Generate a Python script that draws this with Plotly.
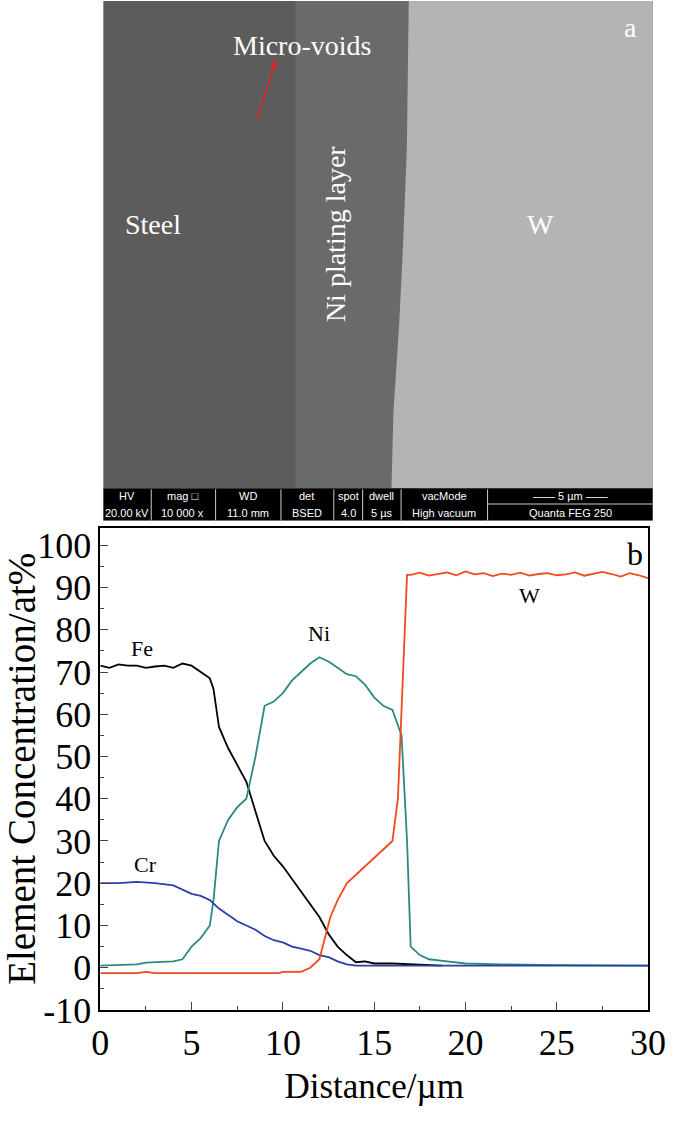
import plotly.graph_objects as go

fe_x = [0,0.5,1,1.5,2,2.5,3,3.5,4,4.5,5,5.5,6,6.2,6.5,7,7.5,8,8.5,9,9.5,10,10.5,11,11.5,12,12.5,13,13.5,14,14.5,15,16,17,18,18.7]
fe_y = [71.5,71,71.8,71.5,71.5,71,71.3,71.5,71,72,71.5,70,68.5,66,57,52,48,44,37,30,26.5,24,21,18,15,12,8,5,3,1.3,1.5,1,1,0.8,0.5,0.5]
ni_x = [0,2,2.5,4,4.5,5,5.5,6,6.2,6.5,7,7.5,8,8.5,9,9.5,10,10.5,11,11.5,12,12.5,13,13.5,14,14.5,15,15.5,16,16.5,16.8,17,17.5,18,19,20,22,25,30]
ni_y = [0.5,0.8,1.2,1.5,2,5,7,10,16,30,35,38,40,50,62,63,65,68,70,72,73.5,72.5,71,69.5,69,67,64,62,61,55,30,5,3,2,1.5,1,0.8,0.6,0.5]
cr_x = [0,1,2,3,4,5,5.5,6,6.5,7,7.5,8,8.5,9,9.5,10,10.5,11,11.5,12,12.5,13,13.5,14,16,20,30]
cr_y = [20,20,20.3,20,19.5,17.5,17,16,14,12.5,11,10,9,7.5,6.5,6,5,4.5,4,3,2.5,1.5,0.8,0.5,0.5,0.5,0.5]
w_x = [0,2,2.5,3,9.8,10,11,11.5,12,12.3,12.6,13,13.5,14,14.5,15,15.5,16,16.3,16.6,16.8,17,17.5,18,18.5,19,19.5,20,20.5,21,21.5,22,22.5,23,23.5,24,24.5,25,25.5,26,26.5,27,27.5,28,28.5,29,29.5,30]
w_y = [-1.3,-1.3,-1,-1.3,-1.3,-1,-1,0,2,7,12,16,20,22,24,26,28,30,40,70,93,93,93.5,92.8,93.2,93.6,92.9,93.8,93.1,93.4,92.7,93.3,93,93.5,92.8,93.2,93.4,92.9,93.1,93.6,92.8,93.3,93.7,93.2,92.6,93.4,92.9,92.2]
y_ticks = [-10,0,10,20,30,40,50,60,70,80,90,100]
y_ticktext = ["-10","0","10","20","30","40","50","60","70","80","90","100"]

F = "Liberation Serif"
fig = go.Figure()
for x, y, c in [(fe_x, fe_y, "#000000"), (ni_x, ni_y, "#2a8a80"), (cr_x, cr_y, "#2a3fa8"), (w_x, w_y, "#f04a1e")]:
    fig.add_trace(go.Scatter(x=x, y=y, mode="lines", line=dict(color=c, width=1.8), showlegend=False))

fig.add_trace(go.Scatter(x=[0], y=[0], xaxis="x2", yaxis="y2", mode="markers", marker=dict(opacity=0), showlegend=False))
sh = []
def rect(x0, y0, x1, y1, col):
    sh.append(dict(type="rect", xref="x2", yref="y2", x0=x0, y0=y0, x1=x1, y1=y1, fillcolor=col, line=dict(width=0), layer="below"))
rect(0, 0, 572, 497, "#5c5c5c")
rect(200, 0, 320, 497, "#6a6a6a")
sh.append(dict(type="path", xref="x2", yref="y2", layer="below", fillcolor="#b4b4b4", line=dict(width=0),
               path="M 318 0 L 572 0 L 572 497 L 300 497 L 302 420 L 308 330 L 312 250 L 316 150 Z"))
rect(0, 497, 572, 530, "#000000")
for xs in [50, 117, 185, 240, 270, 310, 400]:
    sh.append(dict(type="line", xref="x2", yref="y2", x0=xs, x1=xs, y0=498, y1=530, line=dict(color="#cccccc", width=1)))
sh.append(dict(type="line", xref="x2", yref="y2", x0=400, x1=572, y0=513, y1=513, line=dict(color="#cccccc", width=1)))
ann = []
cells = [(25, "HV", "20.00 kV"), (83, "mag \u25a1", "10 000 x"), (151, "WD", "11.0 mm"), (212, "det", "BSED"),
         (255, "spot", "4.0"), (290, "dwell", "5 \u00b5s"), (355, "vacMode", "High vacuum")]
for cx, t1, t2 in cells:
    ann.append(dict(xref="x2", yref="y2", x=cx, y=505, text=t1, showarrow=False, font=dict(family="Liberation Sans", size=11, color="white")))
    ann.append(dict(xref="x2", yref="y2", x=cx, y=522, text=t2, showarrow=False, font=dict(family="Liberation Sans", size=11, color="white")))
ann.append(dict(xref="x2", yref="y2", x=486, y=505, text="\u2014\u2014 5 \u00b5m \u2014\u2014", showarrow=False, font=dict(family="Liberation Sans", size=11, color="white")))
ann.append(dict(xref="x2", yref="y2", x=486, y=522, text="Quanta FEG 250", showarrow=False, font=dict(family="Liberation Sans", size=11, color="white")))
for x, y, t, ang in [(52, 228, "Steel", 0), (455, 228, "W", 0), (242, 238, "Ni plating layer", -90), (207, 45, "Micro-voids", 0), (549, 27, "a", 0)]:
    ann.append(dict(xref="x2", yref="y2", x=x, y=y, text=t, showarrow=False, textangle=ang, font=dict(family=F, size=28, color="white")))
ann.append(dict(xref="x2", yref="y2", x=180, y=60, ax=159, ay=123, axref="x2", ayref="y2", text="", showarrow=True,
                arrowhead=2, arrowsize=1, arrowwidth=1.5, arrowcolor="#e02020"))
for x, y, t in [(2.3, 75.5, "Fe"), (12, 79, "Ni"), (2.5, 24.5, "Cr"), (23.5, 88, "W")]:
    ann.append(dict(x=x, y=y, text=t, showarrow=False, font=dict(family=F, size=22, color="black")))
ann.append(dict(x=29.3, y=98, text="b", showarrow=False, font=dict(family=F, size=32, color="black")))

fig.update_layout(
    width=692, height=1129, margin=dict(l=0, r=0, t=0, b=0),
    paper_bgcolor="white", plot_bgcolor="white", shapes=sh, annotations=ann,
    font=dict(family=F, color="black"),
    xaxis=dict(domain=[95/692, 665/692], range=[0, 30], dtick=5, showgrid=False, zeroline=False,
               ticks="inside", ticklen=8, minor=dict(ticks="inside", ticklen=4, dtick=2.5),
               showline=True, linecolor="black", linewidth=1.5, mirror=True,
               tickfont=dict(size=36), title=dict(text="Distance/\u00b5m", font=dict(size=35), standoff=12), anchor="y"),
    yaxis=dict(domain=[100/1129, 592/1129], range=[-10, 104.2], tickvals=y_ticks, ticktext=y_ticktext, showgrid=False, zeroline=False,
               ticks="inside", ticklen=8, minor=dict(ticks="inside", ticklen=4, dtick=5),
               showline=True, linecolor="black", linewidth=1.5, mirror=True,
               tickfont=dict(size=36), title=dict(text="Element Concentration/at%", font=dict(size=39), standoff=2), anchor="x"),
    xaxis2=dict(domain=[98/692, 670/692], range=[0, 572], visible=False, anchor="y2"),
    yaxis2=dict(domain=[599/1129, 1], range=[530, 0], visible=False, anchor="x2"),
)
fig.write_html("out.html", config={"displayModeBar": False},
               post_script="document.body.style.margin='0';document.body.style.overflow='hidden';")
